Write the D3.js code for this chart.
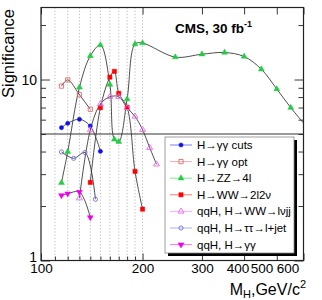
<!DOCTYPE html>
<html><head><meta charset="utf-8">
<script src="https://cdn.jsdelivr.net/npm/d3@7"></script>
<style>
body{margin:0;background:#fff}
svg{display:block;font-family:"Liberation Sans",Arial,Helvetica,sans-serif}
</style>
</head><body>
<svg id="c" width="322" height="300"></svg>
<script>
// ---- axes data ----
const xDomain = [100, 600];
const yDomain = [1, 25];
const xTickLabels = [100, 200, 300, 400, 500, 600];
const xLabelShift = [0, 0, 0, -6.5, -15.4, -16];
const xMinorTicks = [110, 120, 130, 140, 150, 160, 170, 180, 190];
const gridMasses = [110, 120, 130, 140, 150, 160, 170, 180, 190, 200];
const yTickLabels = [1, 10];
const yMinorTicks = [2, 3, 4, 5, 6, 7, 8, 9, 20];
const discoveryLevel = 5;

// ---- series ----
const seriesNames = ["H\u2192\u03b3\u03b3 cuts", "H\u2192\u03b3\u03b3 opt", "H\u2192ZZ\u21924l",
  "H\u2192WW\u21922l2\u03bd", "qqH, H\u2192WW\u2192l\u03bdjj", "qqH, H\u2192\u03c4\u03c4\u2192l+jet", "qqH, H\u2192\u03b3\u03b3"];

const massGgCuts = [115, 120, 130, 140, 150];
const sigGgCuts  = [5.42, 5.73, 6.03, 5.53, 4.01];

const massGgOpt = [115, 120, 130, 140];
const sigGgOpt  = [9.2, 9.95, 8.24, 6.85];

const massZZ = [115, 120, 130, 140, 150, 160, 165, 170, 180, 190, 200, 250, 300, 350, 400, 450, 500, 550, 600];
const sigZZ  = [2.69, 3.99, 9.05, 13.5, 15.5, 9.38, 4.67, 4.53, 7.8, 15.7, 15.9, 13.3, 13.8, 14.1, 13.4, 11.4, 8.86, 6.99, 5.75];

const massWW = [140, 150, 160, 165, 170, 180, 190, 200];
const sigWW  = [2.70, 7.0, 10.3, 11.1, 8.39, 7.02, 3.11, 1.92];

const massLvjj = [130, 140, 150, 160, 170, 180, 190, 200, 210, 220];
const sigLvjj  = [2.21, 5.26, 7.32, 8.03, 8.03, 6.98, 6.25, 5.28, 4.20, 3.40];

const massTau = [115, 125, 135, 145];
const sigTau  = [3.98, 3.67, 3.95, 2.18];

const massQqGg = [115, 120, 130, 140];
const sigQqGg  = [2.29, 2.34, 2.39, 1.73];

const seriesColors = ["#1010ee", "#e86a6a", "#22cc44", "#ff0000", "#ee66ee", "#7070e8", "#ee00ee"];
const seriesShapes = ["circle", "square", "triangle", "square", "triangle", "circle", "triangleDown"];
const seriesFilled = [true, false, true, true, false, false, true];

const seriesData = [
  [massGgCuts, sigGgCuts], [massGgOpt, sigGgOpt], [massZZ, sigZZ], [massWW, sigWW],
  [massLvjj, sigLvjj], [massTau, sigTau], [massQqGg, sigQqGg]
].map(([m, s], i) => ({
  name: seriesNames[i], color: seriesColors[i], shape: seriesShapes[i], filled: seriesFilled[i],
  pts: m.map((v, j) => ({m: v, s: s[j]}))
}));

// ---- layout ----
const L = 41, R = 303.5, T = 7.5, B = 260.5;
const svg = d3.select("#c");
const x = d3.scaleLog().domain(xDomain).range([L, R]);
const y = d3.scaleLog().domain(yDomain).range([B, T]);

svg.append("defs").append("clipPath").attr("id", "clip")
  .append("rect").attr("x", L).attr("y", T).attr("width", R - L).attr("height", B - T);

// grid
svg.append("g").selectAll("line").data(gridMasses).join("line")
  .attr("x1", d => x(d)).attr("x2", d => x(d)).attr("y1", T).attr("y2", B)
  .attr("stroke", "#aaa").attr("stroke-width", 0.8).attr("stroke-dasharray", "1.2,2");

// discovery line
svg.append("line").attr("x1", L).attr("x2", R).attr("y1", y(discoveryLevel)).attr("y2", y(discoveryLevel))
  .attr("stroke", "#333").attr("stroke-width", 1);

// axes
function styleAxis(g, fs) {
  g.select(".domain").remove();
  g.selectAll(".tick line").attr("stroke", "#222").attr("stroke-width", 0.9);
  g.selectAll(".tick text").attr("fill", "#000").attr("font-size", fs).attr("font-family", "Liberation Sans, Arial, sans-serif");
}
svg.append("g").attr("transform", `translate(0,${B})`)
  .call(d3.axisBottom(x).tickValues(xTickLabels).tickFormat(d3.format("d")).tickSizeInner(-7).tickSizeOuter(0).tickPadding(3))
  .call(g => styleAxis(g, 13.5))
  .call(g => g.selectAll(".tick text").attr("dx", (d, i) => xLabelShift[i]));
svg.append("g").attr("transform", `translate(0,${B})`)
  .call(d3.axisBottom(x).tickValues(xMinorTicks).tickFormat("").tickSizeInner(-4).tickSizeOuter(0))
  .call(g => styleAxis(g, 13.5));
svg.append("g").attr("transform", `translate(0,${T})`)
  .call(d3.axisTop(x).tickValues(xTickLabels).tickFormat("").tickSizeInner(-7).tickSizeOuter(0))
  .call(g => styleAxis(g, 13.5));
svg.append("g").attr("transform", `translate(${L},0)`)
  .call(d3.axisLeft(y).tickValues(yTickLabels).tickFormat(d3.format("d")).tickSizeInner(-9).tickSizeOuter(0).tickPadding(4))
  .call(g => styleAxis(g, 14))
  .call(g => g.selectAll(".tick text").attr("dy", d => d === 1 ? "0.05em" : "0.32em"));
svg.append("g").attr("transform", `translate(${L},0)`)
  .call(d3.axisLeft(y).tickValues(yMinorTicks).tickFormat("").tickSizeInner(-5).tickSizeOuter(0))
  .call(g => styleAxis(g, 14));
svg.append("g").attr("transform", `translate(${R},0)`)
  .call(d3.axisRight(y).tickValues(yTickLabels).tickFormat("").tickSizeInner(-9).tickSizeOuter(0))
  .call(g => styleAxis(g, 14));
svg.append("g").attr("transform", `translate(${R},0)`)
  .call(d3.axisRight(y).tickValues(yMinorTicks).tickFormat("").tickSizeInner(-5).tickSizeOuter(0))
  .call(g => styleAxis(g, 14));

// curves
const line = d3.line().x(d => x(d.m)).y(d => y(d.s)).curve(d3.curveCatmullRom.alpha(0.5));
const plot = svg.append("g").attr("clip-path", "url(#clip)");
plot.selectAll("path.curve").data(seriesData).join("path").attr("class", "curve")
  .attr("d", d => line(d.pts)).attr("fill", "none").attr("stroke", "#3a3a3a").attr("stroke-width", 0.9);

// markers
function symbolPath(shape) {
  if (shape === "circle") return d3.symbol(d3.symbolCircle, 14)();
  if (shape === "square") return d3.symbol(d3.symbolSquare, 18)();
  return d3.symbol(d3.symbolTriangle, 15)();
}
function drawMarker(g, s, cx, cy) {
  g.append("path").attr("d", symbolPath(s.shape))
    .attr("transform", `translate(${cx},${cy})` + (s.shape === "triangleDown" ? " rotate(180)" : ""))
    .attr("fill", s.filled ? s.color : "none")
    .attr("stroke", s.color).attr("stroke-width", s.filled ? 0.5 : 0.9);
}
const mg = plot.append("g");
seriesData.forEach(s => s.pts.filter(p => p.m < xDomain[1]).forEach(p => drawMarker(mg, s, x(p.m), y(p.s))));

// frame
svg.append("rect").attr("x", L).attr("y", T).attr("width", R - L).attr("height", B - T)
  .attr("fill", "none").attr("stroke", "#222").attr("stroke-width", 1.2);

// legend
const lgX = 165, lgY = 137, lgW = 129, lgH = 116, rowH = 16.6;
svg.append("rect").attr("x", lgX + 3).attr("y", lgY + 3).attr("width", lgW).attr("height", lgH).attr("fill", "#000");
svg.append("rect").attr("x", lgX).attr("y", lgY).attr("width", lgW).attr("height", lgH)
  .attr("fill", "#fff").attr("stroke", "#888").attr("stroke-width", 0.8);
seriesData.forEach((s, i) => {
  const cy = lgY + 8 + i * rowH;
  const g = svg.append("g");
  g.append("line").attr("x1", lgX + 5).attr("x2", lgX + 27).attr("y1", cy).attr("y2", cy)
    .attr("stroke", s.color).attr("stroke-opacity", 0.55).attr("stroke-width", 1);
  drawMarker(g, s, lgX + 16, cy);
  g.append("text").attr("x", lgX + 32).attr("y", cy).attr("dy", "0.35em")
    .attr("font-size", 11.5).attr("fill", "#000").text(s.name);
});

// title
const t = svg.append("text").attr("x", 175).attr("y", 33.3).attr("font-size", 13.5).attr("font-weight", "bold");
t.append("tspan").text("CMS, 30 fb");
t.append("tspan").attr("font-size", 9).attr("dy", -6).text("-1");

// axis titles
svg.append("text").attr("transform", "translate(13.5,53.5) rotate(-90)").attr("text-anchor", "middle")
  .attr("font-size", 16.5).text("Significance");
const xt = svg.append("text").attr("x", 306).attr("y", 295).attr("text-anchor", "end").attr("font-size", 16);
xt.append("tspan").text("M");
xt.append("tspan").attr("font-size", 11).attr("dy", 3).text("H");
xt.append("tspan").attr("dy", -3).text(",GeV/c");
xt.append("tspan").attr("font-size", 11).attr("dy", -7).text("2");
</script>
</body></html>
